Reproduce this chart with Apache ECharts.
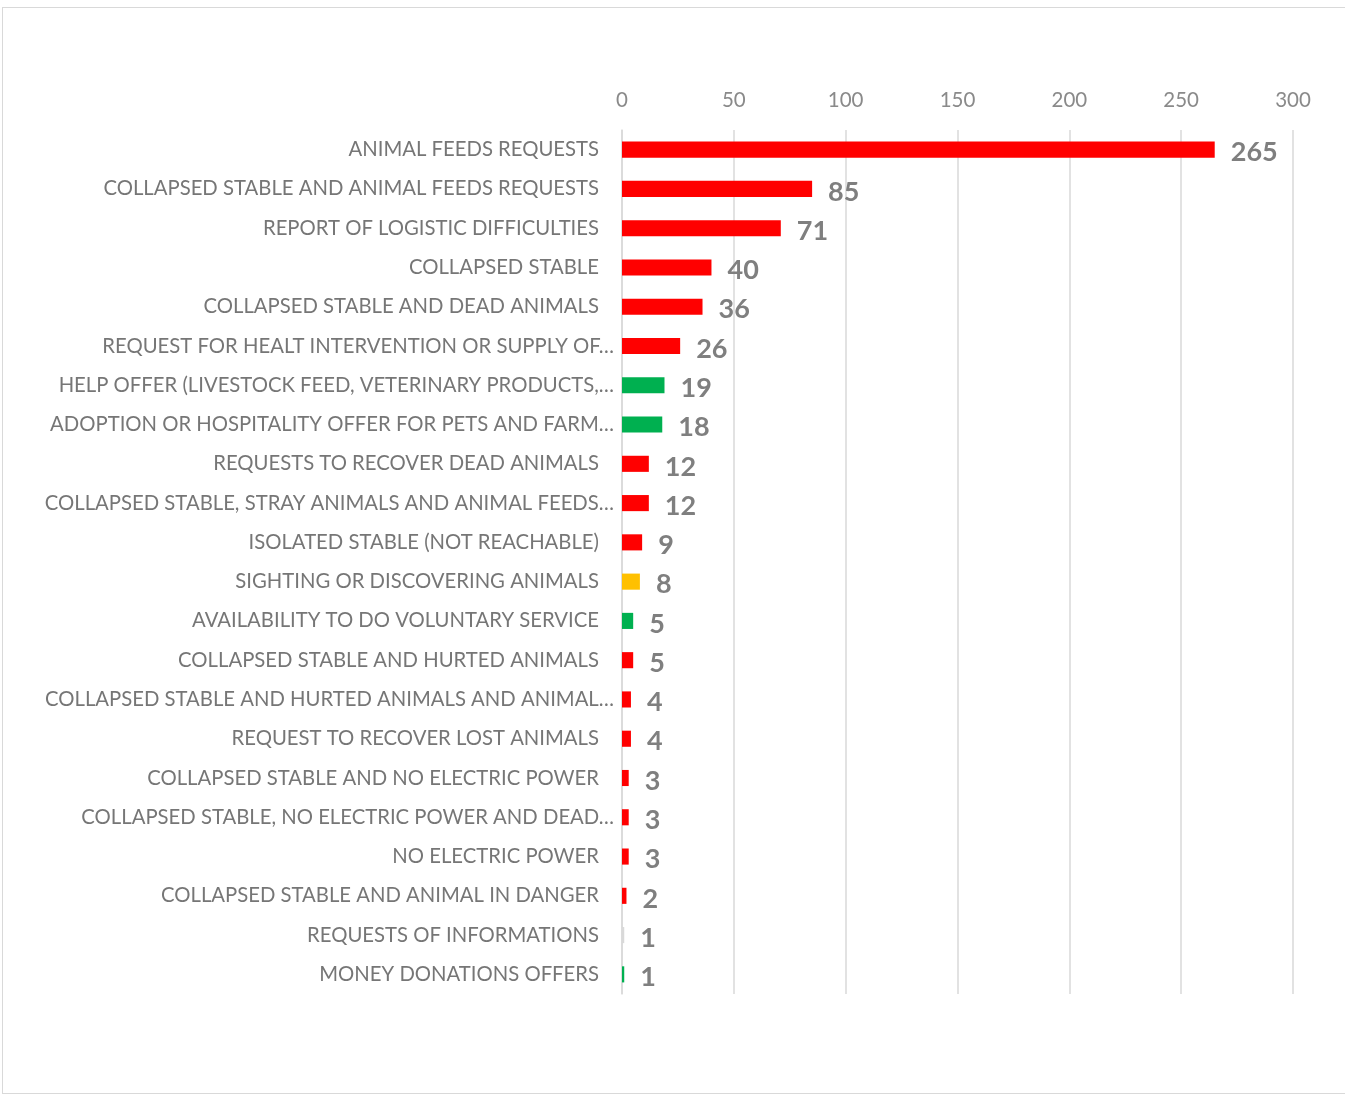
<!DOCTYPE html>
<html>
<head>
<meta charset="utf-8">
<script src="https://cdn.jsdelivr.net/npm/echarts@6/dist/echarts.min.js"></script>
<style>
  html, body { margin: 0; padding: 0; background: #fff; }
  #frame { position: absolute; left: 2px; top: 7px; width: 1345px; height: 1087px; border: 1.5px solid #d9d9d9; box-sizing: border-box; }
  #chart { position: absolute; left: 0; top: 0; width: 1345px; height: 1097px; }
</style>
</head>
<body>
<div id="frame"></div>
<div id="chart"></div>
<script>
const categories = [
  "ANIMAL FEEDS REQUESTS",
  "COLLAPSED STABLE AND ANIMAL FEEDS REQUESTS",
  "REPORT OF LOGISTIC DIFFICULTIES",
  "COLLAPSED STABLE",
  "COLLAPSED STABLE AND DEAD ANIMALS",
  "REQUEST FOR HEALT INTERVENTION OR SUPPLY OF…",
  "HELP OFFER (LIVESTOCK FEED, VETERINARY PRODUCTS,…",
  "ADOPTION OR HOSPITALITY OFFER FOR PETS AND FARM…",
  "REQUESTS TO RECOVER DEAD ANIMALS",
  "COLLAPSED STABLE, STRAY ANIMALS AND ANIMAL FEEDS…",
  "ISOLATED STABLE (NOT REACHABLE)",
  "SIGHTING OR DISCOVERING ANIMALS",
  "AVAILABILITY TO DO VOLUNTARY SERVICE",
  "COLLAPSED STABLE AND HURTED ANIMALS",
  "COLLAPSED STABLE AND HURTED ANIMALS AND ANIMAL…",
  "REQUEST TO RECOVER LOST ANIMALS",
  "COLLAPSED STABLE AND NO ELECTRIC POWER",
  "COLLAPSED STABLE, NO ELECTRIC POWER AND DEAD…",
  "NO ELECTRIC POWER",
  "COLLAPSED STABLE AND ANIMAL IN DANGER",
  "REQUESTS OF INFORMATIONS",
  "MONEY DONATIONS OFFERS"
];
const values = [265, 85, 71, 40, 36, 26, 19, 18, 12, 12, 9, 8, 5, 5, 4, 4, 3, 3, 3, 2, 1, 1];
const barColors = [
  "#FF0000", "#FF0000", "#FF0000", "#FF0000", "#FF0000", "#FF0000",
  "#00B050", "#00B050", "#FF0000", "#FF0000", "#FF0000", "#FFC000",
  "#00B050", "#FF0000", "#FF0000", "#FF0000", "#FF0000", "#FF0000",
  "#FF0000", "#FF0000", "#D9D9D9", "#00B050"
];
const xTicks = { min: 0, max: 300, interval: 50 };

const chart = echarts.init(document.getElementById('chart'));
const FONT = 'Lato, "Open Sans", sans-serif';
chart.setOption({
  backgroundColor: 'transparent',
  animation: false,
  grid: { left: 622, right: 52, top: 130, bottom: 103, containLabel: false },
  xAxis: {
    type: 'value',
    position: 'top',
    min: xTicks.min, max: xTicks.max, interval: xTicks.interval,
    axisLine: { show: false },
    axisTick: { show: false },
    splitLine: { show: true, lineStyle: { color: '#d9d9d9', width: 1.5 } },
    axisLabel: { color: '#8a8a8a', fontSize: 20.5, fontFamily: FONT, margin: 19 }
  },
  yAxis: {
    type: 'category',
    inverse: true,
    data: categories,
    axisLine: { show: true, lineStyle: { color: '#d9d9d9', width: 1.5 } },
    axisTick: { show: false },
    axisLabel: {
      margin: 8,
      fontSize: 20.3,
      fontFamily: FONT,
      color: '#767676',
      formatter: function (v) {
        return v.endsWith('…') ? '{t|' + v + '}' : '{n|' + v + '}';
      },
      rich: {
        t: { fontSize: 20.3, fontFamily: FONT, color: '#767676' },
        n: { fontSize: 20.3, fontFamily: FONT, color: '#767676', padding: [0, 15, 0, 0] }
      }
    }
  },
  series: [{
    type: 'bar',
    data: values.map((v, i) => ({ value: v, itemStyle: { color: barColors[i] } })),
    barWidth: '41%',
    label: {
      show: true,
      position: 'right',
      distance: 16,
      offset: [0, 3],
      color: '#7f7f7f',
      fontSize: 27,
      fontWeight: 'bold',
      fontFamily: FONT
    }
  }]
});
</script>
</body>
</html>
